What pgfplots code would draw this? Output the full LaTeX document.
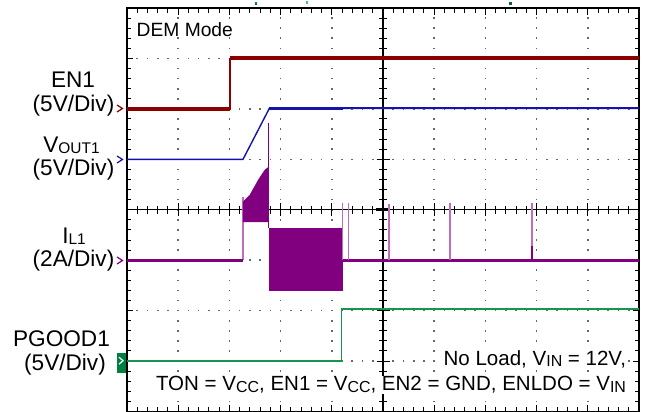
\documentclass[border=0pt]{standalone}
\usepackage{pgfplots}
\pgfplotsset{compat=1.18}
\usepackage{fontspec}
\setmainfont{Liberation Sans}
\definecolor{en}{RGB}{140,0,0}
\definecolor{vo}{RGB}{20,20,170}
\definecolor{il}{RGB}{128,0,128}
\definecolor{ill}{RGB}{190,110,190}
\definecolor{pg}{RGB}{20,150,80}
\definecolor{pgbox}{RGB}{0,128,64}
\newcommand\lab{\fontsize{22.7}{24}\selectfont}
\newcommand\ann{\fontsize{20.6}{22}\selectfont}
\newcommand\subL[1]{\raisebox{-1.2bp}{\fontsize{15.5}{16}\selectfont #1}}
\newcommand\subA[1]{\raisebox{-1.8bp}{\fontsize{16}{17}\selectfont #1}}
\begin{document}
\begin{tikzpicture}[x=1bp,y=1bp]
% dotted grid
\foreach \i in {1,2,3,4,6,7,8,9} \foreach \j in {0,...,40} \fill[black!60] ({\i*51.2-0.8},{\j*10.0875-0.8}) rectangle +(1.6,1.6);
\foreach \j in {1,2,3,5,6,7} \foreach \i in {0,...,50} \fill[black!60] ({\i*10.24-0.8},{\j*50.4375-0.8}) rectangle +(1.6,1.6);
% centre axes
\draw[line width=1.3bp] (256,0) -- (256,403.5);
\draw[line width=1.3bp] (0,201.75) -- (512,201.75);
\foreach \i in {0,...,50} \draw[line width=1bp] ({\i*10.24},197.75) -- +(0,8);
\foreach \i in {0,...,10} \draw[line width=1bp] ({\i*51.2},195.25) -- +(0,13);
\foreach \j in {0,...,40} \draw[line width=1bp] (252,{\j*10.0875}) -- +(8,0);
\foreach \j in {0,...,8} \draw[line width=1bp] (249.5,{\j*50.4375}) -- +(13,0);
\draw[line width=2.6bp] (249,201.75) -- (263,201.75);
\draw[line width=2.6bp] (256,195) -- (256,208.5);
\begin{axis}[at={(0,0)}, anchor=south west, scale only axis,
  width=512bp, height=403.5bp,
  xmin=0, xmax=10, ymin=0, ymax=8,
  xtick={0,...,10}, ytick={0,...,8},
  minor x tick num=4, minor y tick num=4,
  xticklabels={,,}, yticklabels={,,},
  major tick length=6.5bp, minor tick length=4.5bp,
  tick style={black, line width=1bp},
  axis line style={line width=1.3bp},
  clip=false]
% EN1
\addplot[en, line width=1.8bp] coordinates {(0,6.0) (2.01,6.0) (2.01,7.0) (10,7.0)};
\addplot[en, line width=4bp] coordinates {(0,6.0) (2.01,6.0)};
\addplot[en, line width=4bp] coordinates {(2.01,7.0) (10,7.0)};
% VOUT1
\addplot[vo, line width=1.4bp] coordinates {(0,5.0) (2.266,5.0) (2.78,6.01) (10,6.01)};
\addplot[vo, line width=3.2bp] coordinates {(2.78,6.01) (4.21,6.01)};
\addplot[vo, line width=1.9bp] coordinates {(4.21,6.01) (10,6.01)};
% IL1
\addplot[ill, line width=1.4bp] coordinates {(2.266,3.0) (2.266,4.25)};
\addplot[il, line width=3bp] coordinates {(0,3.0) (2.266,3.0)};
\addplot[il, line width=3bp] coordinates {(4.213,3.0) (10,3.0)};
\addplot[il, fill=il, draw=il, line width=0.5bp] coordinates {(2.27,3.76) (2.27,4.16) (2.40,4.29) (2.565,4.59) (2.695,4.79) (2.76,4.84) (2.76,3.76)} -- cycle;
\addplot[il, line width=1.5bp] coordinates {(2.765,3.63) (2.765,5.72)};
\addplot[il, fill=il, draw=il, line width=0.5bp] coordinates {(2.779,2.41) (2.779,3.63) (4.213,3.63) (4.213,2.41)} -- cycle;
\addplot[ill, line width=1.2bp] coordinates {(4.213,3.0) (4.213,4.13)};
\addplot[ill, line width=1.2bp] coordinates {(4.322,3.0) (4.322,4.13)};
\addplot[ill, line width=1.2bp] coordinates {(5.117,3.0) (5.117,4.11)};
\addplot[ill, line width=1.2bp] coordinates {(6.309,3.0) (6.309,4.13)};
\addplot[ill, line width=1.2bp] coordinates {(7.91,3.0) (7.91,4.13)};
\addplot[il, line width=2bp] coordinates {(7.91,3.0) (7.91,3.28)};
% PGOOD1
\addplot[pg, line width=1.4bp] coordinates {(0,1.0) (4.193,1.0) (4.193,2.03) (10,2.03)};
\end{axis}
% channel markers
\draw[en, line width=1.2bp] (-10,306.5) -- (-4.5,303) -- (-10,299.5);
\draw[vo, line width=1.2bp] (-10,255.5) -- (-4.5,252) -- (-10,248.5);
\draw[il, line width=1.2bp] (-10,154.5) -- (-4.5,151) -- (-10,147.5);
\fill[pgbox] (-10,38.2) rectangle (-1,58.5);
\draw[white, line width=1.2bp] (-8,54.3) -- (-4,50.8) -- (-8,47.3);
% top markers
\fill[pgbox] (128,406) rectangle +(2,3);
\fill[pg!70] (178.5,407) rectangle +(2,3);
\fill[pgbox!80!black] (382,406) rectangle +(3,3.5);
% labels
\node[anchor=base, font=\lab, inner sep=0] at (-54,324.2) {EN1};
\node[anchor=base, font=\lab, inner sep=0] at (-53.5,300.5) {(5V/Div)};
\node[anchor=base, font=\lab, inner sep=0] at (-55.5,259.5) {V\subL{OUT1}};
\node[anchor=base, font=\lab, inner sep=0] at (-53.5,236.3) {(5V/Div)};
\node[anchor=base, font=\lab, inner sep=0] at (-53,168.5) {I\subL{L1}};
\node[anchor=base, font=\lab, inner sep=0] at (-53.5,145.5) {(2A/Div)};
\node[anchor=base, font=\lab, inner sep=0] at (-65.5,64.8) {PGOOD1};
\node[anchor=base, font=\lab, inner sep=0] at (-62,41.5) {(5V/Div)};
\node[anchor=base west, font=\fontsize{19.3}{20}\selectfont, fill=white, inner sep=0.5bp] at (9,375.5) {DEM Mode};
\node[anchor=base east, font=\ann, fill=white, inner sep=0.5bp] at (499.7,46.5) {No Load, V\subA{IN} = 12V,};
\node[anchor=base east, font=\ann, fill=white, inner sep=0.5bp] at (499.7,20.8) {TON = V\subA{CC}, EN1 = V\subA{CC}, EN2 = GND, ENLDO = V\subA{IN}};
\pgfresetboundingbox
\useasboundingbox (-127,0.5) rectangle (519,411.5);
\end{tikzpicture}
\end{document}
